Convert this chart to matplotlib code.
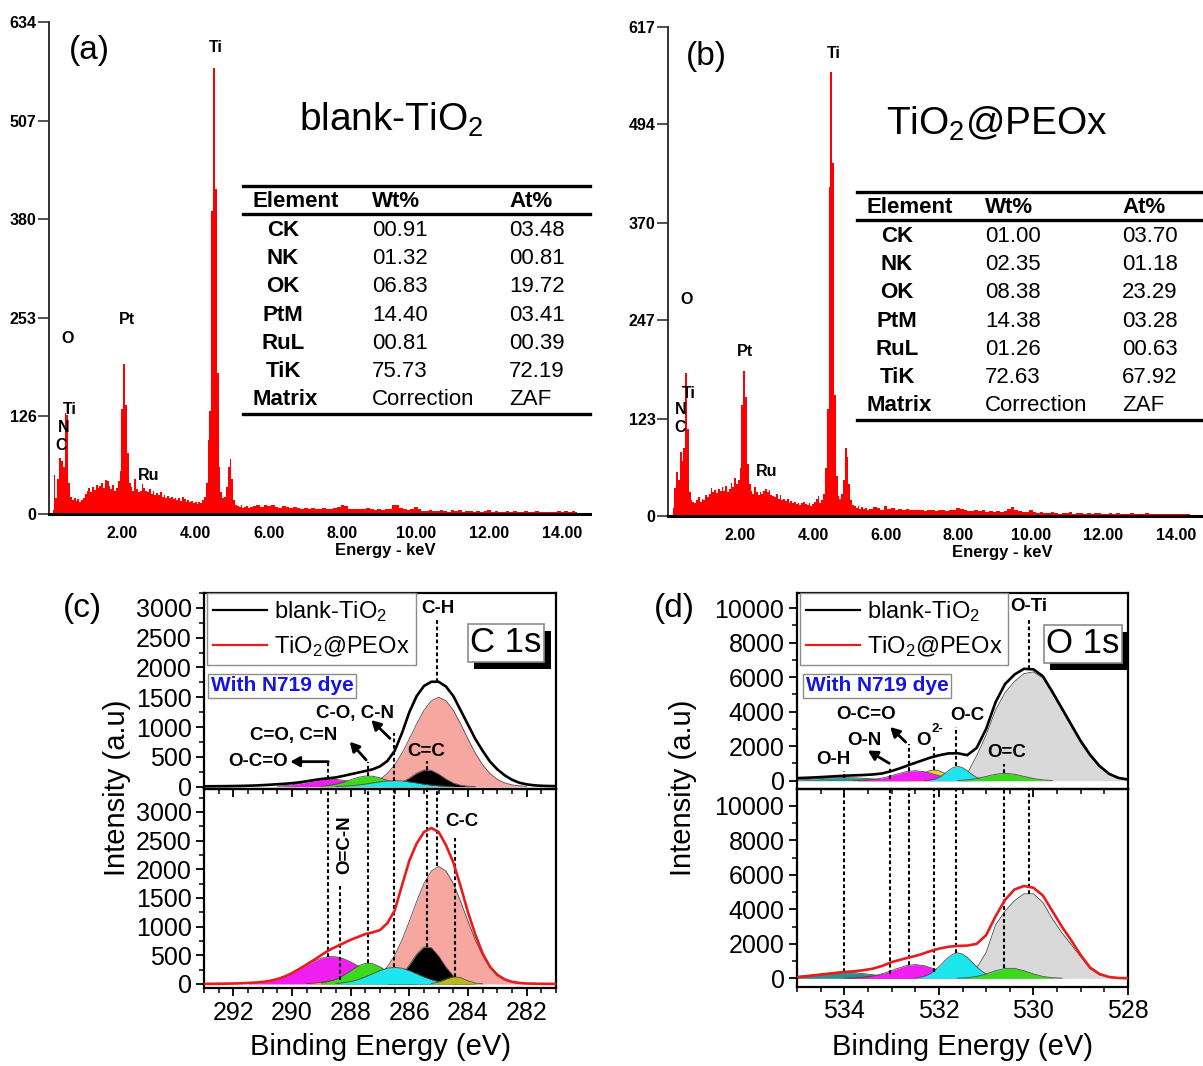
import matplotlib
matplotlib.use("Agg")
import matplotlib.pyplot as plt
import matplotlib.patheffects as pe
from matplotlib.lines import Line2D
from matplotlib.ticker import MultipleLocator
import numpy as np

plt.rcParams["font.family"] = ["Liberation Sans", "DejaVu Sans"]
plt.rcParams["mathtext.fontset"] = "custom"
plt.rcParams["mathtext.rm"] = "Liberation Sans"
plt.rcParams["mathtext.it"] = "Liberation Sans:italic"
plt.rcParams["mathtext.bf"] = "Liberation Sans:bold"

W, H = 1203, 1066

# ---------------- EDS spectra (counts) ----------------
# 0.05 keV channels from 0.10 keV, then 0.1 keV channels from 5.6 keV
eds_a_low = [5, 50, 20, 45, 72, 68, 60, 130, 128, 40,
             22, 18, 20, 17, 19, 16, 18, 20, 26, 30,
             33, 28, 35, 31, 38, 34, 36, 40, 33, 44,
             42, 36, 32, 38, 30, 34, 42, 55, 135, 193,
             140, 78, 40, 35, 30, 45, 32, 28, 30, 39,
             34, 30, 28, 32, 26, 29, 24, 27, 25, 28,
             22, 24, 21, 23, 20, 22, 19, 21, 18, 20,
             17, 22, 19, 16, 18, 15, 17, 14, 16, 13,
             15, 14, 18, 22, 40, 95, 133, 391, 575, 419,
             182, 60, 28, 20, 22, 35, 60, 71, 45, 18,
             12, 10, 9, 11, 8, 9, 10, 8, 9]
eds_a_high = [10, 12, 9, 11, 10, 12, 9, 8, 10, 9,
              8, 9, 8, 7, 8, 7, 8, 6, 7, 8,
              6, 7, 8, 9, 11, 10, 7, 6, 7, 6,
              7, 8, 6, 5, 6, 5, 6, 7, 11, 12,
              8, 6, 5, 6, 9, 6, 4, 4, 5, 4,
              4, 5, 4, 3, 5, 4, 5, 3, 4, 4,
              3, 4, 3, 4, 5, 3, 4, 3, 3, 4,
              3, 4, 3, 3, 4, 3, 3, 4, 3, 3,
              2, 3, 3, 4, 3, 4, 3, 4, 3]
eds_b_low = [0, 10, 35, 56, 45, 81, 70, 86, 180, 110,
             30, 20, 18, 16, 20, 24, 18, 22, 20, 26,
             24, 28, 35, 30, 33, 29, 34, 31, 36, 32,
             38, 30, 34, 42, 36, 48, 40, 46, 60, 140,
             183, 150, 65, 40, 32, 28, 36, 30, 26, 30,
             28, 32, 34, 30, 33, 27, 25, 24, 28, 22,
             26, 20, 22, 19, 21, 17, 19, 16, 18, 15,
             17, 14, 16, 18, 15, 14, 16, 13, 15, 18,
             22, 25, 16, 20, 28, 60, 135, 415, 560, 446,
             153, 50, 25, 22, 28, 45, 86, 75, 40, 20,
             14, 12, 10, 12, 9, 11, 9, 10, 8]
eds_b_high = [9, 11, 10, 8, 12, 9, 10, 8, 9, 8,
              9, 7, 8, 8, 7, 6, 8, 7, 6, 7,
              7, 6, 8, 7, 10, 9, 7, 6, 6, 7,
              6, 7, 5, 6, 5, 6, 5, 6, 9, 11,
              8, 6, 5, 5, 7, 5, 4, 5, 4, 4,
              5, 4, 3, 4, 4, 5, 3, 4, 4, 3,
              4, 3, 4, 4, 3, 3, 4, 3, 4, 3,
              3, 3, 4, 3, 3, 3, 4, 3, 3, 3,
              3, 2, 3, 3, 3, 2, 3, 3, 2]
eds_a_yticks = [0, 126, 253, 380, 507, 634]
eds_b_yticks = [0, 123, 247, 370, 494, 617]
eds_xticks = [2, 4, 6, 8, 10, 12, 14]

table_elements = ["CK", "NK", "OK", "PtM", "RuL", "TiK"]
wt_a = ["00.91", "01.32", "06.83", "14.40", "00.81", "75.73"]
at_a = ["03.48", "00.81", "19.72", "03.41", "00.39", "72.19"]
wt_b = ["01.00", "02.35", "08.38", "14.38", "01.26", "72.63"]
at_b = ["03.70", "01.18", "23.29", "03.28", "00.63", "67.92"]

# ---------------- XPS C 1s (step 0.25 eV, listed from high BE) ----------------
c1_env = (293.0, [5, 6, 7, 8, 10, 12, 15, 19, 25, 32, 40, 48, 58, 72, 90, 110, 128,
                  140, 155, 180, 208, 235, 262, 290, 340, 430, 600, 900, 1250, 1520,
                  1690, 1760, 1760, 1680, 1520, 1280, 1040, 800, 600, 420, 290, 190,
                  115, 65, 38, 22, 14, 10, 8])
c1_ch = (288.0, [5, 13, 29, 62, 121, 219, 364, 561, 800, 1053, 1282, 1441, 1500,
                 1441, 1282, 1053, 800, 561, 364, 219, 121, 62, 29, 13, 5])
c1_oco = (290.5, [8, 16, 29, 49, 72, 96, 116, 125, 121, 105, 82, 58, 36, 21, 11, 5])
c1_con = (289.0, [8, 19, 41, 74, 116, 155, 178, 175, 148, 107, 66, 35, 16, 6])
c1_co = (288.5, [3, 7, 14, 26, 42, 62, 81, 95, 100, 95, 81, 62, 42, 26, 14, 7, 3])
c1_cc = (286.75, [9, 28, 71, 143, 225, 280, 273, 209, 126, 60, 22, 7, 2])

c2_env = (293.0, [2, 3, 4, 6, 8, 12, 18, 25, 36, 55, 85, 130, 190, 262, 340, 420, 505,
                  585, 650, 710, 770, 820, 870, 900, 940, 1060, 1280, 1720, 2150, 2450,
                  2650, 2720, 2650, 2420, 2120, 1700, 1250, 860, 530, 300, 160, 80, 38,
                  18, 9, 5, 3, 2, 2])
c2_ch = (288.0, [7, 18, 40, 85, 166, 299, 498, 767, 1093, 1439, 1752, 1970, 2050,
                 1970, 1752, 1439, 1093, 767, 498, 299, 166, 85, 40, 18, 7])
c2_oco = (291.5, [7, 14, 27, 48, 80, 126, 185, 255, 329, 397, 450, 478, 474, 442, 385,
                  314, 240, 172, 115, 72, 43, 23, 12, 6])
c2_ocn = (289.5, [6, 16, 33, 55, 72, 74, 59, 37, 19, 7])
c2_con = (289.0, [16, 39, 82, 150, 234, 314, 361, 355, 300, 217, 135, 72, 33, 13])
c2_cc = (286.75, [20, 64, 164, 330, 521, 647, 632, 485, 292, 139, 51, 15, 3])
c2_co = (288.5, [9, 21, 42, 76, 123, 179, 234, 275, 290, 275, 234, 179, 123, 76, 42, 21, 9])
c2_c_c = (285.25, [8, 35, 88, 129, 109, 54, 16, 3])

# ---------------- XPS O 1s (envelopes step 0.2 eV) ----------------
d1_env = (535.0, [150, 170, 195, 225, 255, 290, 310, 330, 360, 420, 560, 740, 940, 1130,
                  1320, 1470, 1580, 1590, 1480, 1900, 3000, 4550, 5600, 6150, 6480, 6450,
                  6050, 5150, 4200, 3250, 2300, 1500, 850, 400, 160, 70])
d1_oti = (531.6, 0.2, [60, 400, 1450, 2650, 4100, 5100, 5750, 6200, 6300, 5950, 5050,
                       4100, 3150, 2200, 1400, 780, 360, 140, 55])
d1_oh = (535.0, 0.2, [44, 73, 108, 143, 170, 180, 170, 143, 108, 73, 44, 23, 11])
d1_on = (533.8, 0.2, [6, 19, 45, 76, 90, 76, 45, 19, 6])
d1_o2 = (532.8, 0.1, [14, 39, 90, 181, 310, 456, 574, 620, 574, 456, 310, 181, 90, 39, 14])
d1_ocoo = (533.7, 0.2, [11, 36, 98, 213, 372, 519, 580, 519, 372, 213, 98, 36, 11])
d1_oc = (532.3, 0.1, [9, 31, 84, 191, 364, 575, 757, 830, 757, 575, 364, 191, 84, 31, 9])
d1_odc = (531.6, 0.2, [14, 48, 126, 249, 375, 430, 375, 249, 126, 48, 14])

d2_env = (535.0, [80, 130, 190, 250, 310, 370, 410, 470, 560, 720, 940, 1090, 1230, 1370,
                  1560, 1720, 1830, 1880, 1900, 2000, 2500, 3600, 4550, 5150, 5350, 5250,
                  4800, 3900, 3000, 2200, 1350, 620, 250, 80, 20, 10])
d2_oti = (531.6, 0.2, [50, 200, 600, 1500, 3100, 3900, 4500, 4900, 4900, 4400, 3450,
                       2650, 1950, 1250, 560, 200, 60, 15, 5])
d2_oh = (535.0, 0.2, [85, 142, 210, 278, 331, 350, 331, 278, 210, 142, 85, 45, 22])
d2_on = (534.0, 0.2, [8, 28, 73, 145, 218, 250, 218, 145, 73, 28, 8])
d2_ocoo = (533.9, 0.2, [9, 30, 81, 184, 350, 554, 730, 800, 730, 554, 350, 184, 81, 30, 9])
d2_oc = (532.5, 0.1, [27, 63, 132, 250, 432, 672, 950, 1215, 1409, 1480, 1409, 1215, 950,
                      672, 432, 250, 132, 63, 27])
d2_odc = (531.6, 0.2, [10, 38, 112, 255, 441, 580, 580, 441, 255, 112, 38, 10])

PINK, MAG, GRN, CYN = "#f6a7a0", "#f01ef0", "#3cd81c", "#1ee6ee"
ORG, OLV, GRY, TEAL = "#ff9c30", "#b8b818", "#d9d9d9", "#2f8f8f"
ORED, YEL, RED = "#e8572c", "#f0cf3a", "#e81c1c"


def px(x, y):
    return x / W, 1 - y / H


fig = plt.figure(figsize=(W / 100, H / 100), dpi=100)


# ---------------- EDS panels ----------------
def eds_panel(left, right, top, bottom, low, high, yticks):
    ax = fig.add_axes([left / W, 1 - bottom / H, (right - left) / W, (bottom - top) / H])
    e = np.concatenate([0.10 + 0.05 * np.arange(len(low)), 5.60 + 0.10 * np.arange(len(high))])
    c = np.concatenate([low, high])
    ax.fill_between(e, c, step="mid", color="#ff0000", lw=0)
    ax.set_xlim(0, 14.75)
    ax.set_ylim(0, yticks[-1])
    ax.set_xticks(eds_xticks)
    ax.set_xticklabels([f"{v:.2f}" for v in eds_xticks], fontweight="bold", fontsize=11.5)
    ax.set_yticks(yticks)
    ax.set_yticklabels([str(v) for v in yticks], fontweight="bold", fontsize=11.5)
    ax.tick_params(axis="x", length=0, pad=9)
    ax.tick_params(axis="y", length=8, width=1.2, pad=1, color="#333333")
    for s in ("top", "right"):
        ax.spines[s].set_visible(False)
    ax.spines["left"].set_linewidth(1.4)
    ax.spines["left"].set_color("#333333")
    ax.spines["bottom"].set_linewidth(2.2)
    return ax


ax_a = eds_panel(49, 590, 22, 514, eds_a_low, eds_a_high, eds_a_yticks)
ax_b = eds_panel(668, 1203, 27, 516, eds_b_low, eds_b_high, eds_b_yticks)

fig.text(*px(385, 550), "Energy - keV", fontsize=12, fontweight="bold", ha="center", va="center")
fig.text(*px(1002, 552), "Energy - keV", fontsize=12, fontweight="bold", ha="center", va="center")
fig.text(*px(89, 50), "(a)", fontsize=24, ha="center", va="center")
fig.text(*px(706, 56), "(b)", fontsize=24, ha="center", va="center")
fig.text(*px(391, 120), "blank-TiO$_2$", fontsize=28, ha="center", va="center")
fig.text(*px(997, 124), "TiO$_2$@PEOx", fontsize=28, ha="center", va="center")

peak_labels_a = [("Ti", 216, 47), ("O", 68, 338), ("Pt", 127, 319), ("Ti", 70, 410),
                 ("N", 64, 428), ("C", 61, 446), ("Ru", 149, 476)]
peak_labels_b = [("Ti", 834, 53), ("O", 687, 300), ("Pt", 745, 351), ("Ti", 689, 393),
                 ("N", 681, 410), ("C", 680, 428), ("Ru", 767, 471)]
for name, x, y in peak_labels_a + peak_labels_b:
    fig.text(*px(x, y), name, fontsize=11.5, fontweight="bold", ha="center", va="center")


def draw_table(x0, x1, ytop, name_x, wt_x, at_x, wt, at):
    for y in (ytop, ytop + 28, ytop + 228):
        fig.add_artist(Line2D([x0 / W, x1 / W], [1 - y / H] * 2, lw=2.4, color="k"))
    hy = ytop + 15.5
    fig.text(*px(x0 + 10, hy), "Element", fontsize=16, fontweight="bold", va="center")
    fig.text(*px(wt_x, hy), "Wt%", fontsize=16, fontweight="bold", va="center")
    fig.text(*px(at_x, hy), "At%", fontsize=16, fontweight="bold", va="center")
    for i, name in enumerate(table_elements):
        y = ytop + 44.5 + 28.2 * i
        fig.text(*px(name_x, y), name, fontsize=16, fontweight="bold", ha="center", va="center")
        fig.text(*px(wt_x, y), wt[i], fontsize=16, va="center")
        fig.text(*px(at_x, y), at[i], fontsize=16, va="center")
    y = ytop + 44.5 + 28.2 * 6
    fig.text(*px(x0 + 10, y), "Matrix", fontsize=16, fontweight="bold", va="center")
    fig.text(*px(wt_x, y), "Correction", fontsize=16, va="center")
    fig.text(*px(at_x, y), "ZAF", fontsize=16, va="center")


draw_table(243, 590, 186, 283, 372, 509, wt_a, at_a)
draw_table(857, 1203, 192, 897, 985, 1122, wt_b, at_b)


# ---------------- XPS panels ----------------
def xps_axes(left, right, top, bottom, xlim, ylim, ymajor, yminor, ymax_label, show_x):
    ax = fig.add_axes([left / W, 1 - bottom / H, (right - left) / W, (bottom - top) / H])
    ax.set_facecolor("none")
    ax.set_xlim(*xlim)
    ax.set_ylim(*ylim)
    ax.xaxis.set_major_locator(MultipleLocator(2))
    ax.xaxis.set_minor_locator(MultipleLocator(0.5))
    ax.set_yticks(np.arange(0, ymax_label + 1, ymajor))
    ax.yaxis.set_minor_locator(MultipleLocator(yminor))
    ax.tick_params(which="major", direction="out", length=6, width=1.3, labelsize=18, pad=3)
    ax.tick_params(which="minor", direction="out", length=3.5, width=1.1)
    ax.tick_params(axis="x", labelbottom=show_x)
    for s in ax.spines.values():
        s.set_linewidth(1.6)
    return ax


def draw_components(ax, comps, step=None):
    for i, (data, color) in enumerate(comps):
        if len(data) == 3:
            start, st, vals = data
        else:
            (start, vals), st = data, step
        e = start - st * np.arange(len(vals))
        z = 2 + 0.01 * i
        ax.fill_between(e, vals, color=color, lw=0, zorder=z)
        ax.plot(e, vals, color="0.3", lw=0.6, zorder=z)


def draw_env(ax, env, step, color):
    start, vals = env
    e = start - step * np.arange(len(vals))
    return ax.plot(e, vals, color=color, lw=1.9, zorder=6)[0]


def marks(ax, xs, lows, highs):
    ax.vlines(xs, lows, highs, colors="k", linestyles=(0, (1.8, 1.3)), lw=1.5, zorder=4)


def labels(ax, items, rot=0):
    for s, x, y in items:
        ax.text(x, y, s, fontsize=13.5, fontweight="bold", ha="center", va="center",
                rotation=rot, zorder=7)


def arrows(ax, items):
    for tail, head in items:
        ax.annotate("", xy=head, xytext=tail, zorder=7,
                    arrowprops=dict(arrowstyle="-|>,head_length=0.55,head_width=0.3",
                                    lw=2.0, color="k", shrinkA=0, shrinkB=0))


def shadow_box(ax, xf, yf, s):
    t = ax.text(xf, yf, s, transform=ax.transAxes, fontsize=25, ha="center", va="center",
                zorder=10, bbox=dict(boxstyle="square,pad=0.08", fc="white", ec="0.55", lw=1.2))
    t.get_bbox_patch().set_path_effects([
        pe.SimplePatchShadow(offset=(5, -5), shadow_rgbFace="k", alpha=1.0), pe.Normal()])


def legend_and_dye(ax, h_black, h_red, dye_x):
    leg = ax.legend([h_black, h_red], ["blank-TiO$_2$", "TiO$_2$@PEOx"], loc="upper left",
                    bbox_to_anchor=(0.008, 1.0), fontsize=17, frameon=True, fancybox=False,
                    edgecolor="0.55", framealpha=1, borderpad=0.25, handlelength=2.3,
                    handletextpad=0.3, labelspacing=0.45, borderaxespad=0)
    leg.get_frame().set_linewidth(1.0)
    leg.set_zorder(9)
    ax.text(dye_x, 0.526, "With N719 dye", transform=ax.transAxes, fontsize=15,
            fontweight="bold", color="#1414e6", ha="center", va="center", zorder=10,
            bbox=dict(boxstyle="square,pad=0.12", fc="white", ec="0.55", lw=1.0))


h_black = Line2D([], [], color="k", lw=1.6)
h_red = Line2D([], [], color=RED, lw=1.6)

# (c) C 1s
ax_c1 = xps_axes(204, 556, 593, 789, (293, 281), (-40, 3250), 500, 250, 3000, False)
ax_c2 = xps_axes(204, 556, 789, 988, (293, 281), (-70, 3400), 500, 250, 3000, True)
draw_components(ax_c1, [(c1_ch, PINK), (c1_oco, MAG), (c1_con, GRN),
                        (c1_cc, "k"), (c1_co, CYN)], step=0.25)
draw_env(ax_c1, c1_env, 0.25, "k")
draw_components(ax_c2, [(c2_ch, PINK), (c2_oco, MAG), (c2_ocn, ORG), (c2_con, GRN),
                        (c2_cc, "k"), (c2_co, CYN), (c2_c_c, OLV)], step=0.25)
draw_env(ax_c2, c2_env, 0.25, RED)
marks(ax_c1, [288.76, 287.41, 286.51, 285.40, 285.04], [125, 180, 100, 280, 1760],
      [419, 419, 894, 430, 2821])
marks(ax_c2, [288.76, 288.37, 287.41, 286.51, 285.40, 285.04, 284.45],
      [478, 74, 361, 290, 647, 2050, 129], [3400, 1700, 3400, 3400, 3400, 3400, 2545])
labels(ax_c1, [("C-H", 285.04, 2990), ("C=C", 285.44, 587), ("C-O, C-N", 287.84, 1229),
               ("C=O, C=N", 289.95, 866), ("O-C=O", 291.17, 419)])
arrows(ax_c1, [((288.76, 419), (290.06, 419)), ((287.47, 447), (288.03, 754)),
               ((286.66, 810), (287.3, 1117))])
labels(ax_c2, [("O=C-N", 288.2, 2429)], rot=90)
labels(ax_c2, [("C-C", 284.2, 2836)])
legend_and_dye(ax_c1, h_black, h_red, 0.222)
shadow_box(ax_c1, 0.858, 0.745, "C 1s")

# (d) O 1s
ax_d1 = xps_axes(797, 1128, 593, 789, (535, 528), (-480, 10870), 2000, 1000, 10000, False)
ax_d2 = xps_axes(797, 1128, 789, 987, (535, 528), (-500, 10970), 2000, 1000, 10000, True)
draw_components(ax_d1, [(d1_oti, GRY), (d1_oh, TEAL), (d1_on, ORED), (d1_o2, YEL),
                        (d1_ocoo, MAG), (d1_oc, CYN), (d1_odc, GRN)])
draw_env(ax_d1, d1_env, 0.2, "k")
draw_components(ax_d2, [(d2_oti, GRY), (d2_oh, TEAL), (d2_on, ORED),
                        (d2_ocoo, MAG), (d2_oc, CYN), (d2_odc, GRN)])
draw_env(ax_d2, d2_env, 0.2, RED)
o_marks = [534.0, 533.03, 532.64, 532.1, 531.63, 530.62, 530.09]
marks(ax_d1, o_marks, [180, 90, 580, 620, 830, 430, 6480], [544, 874, 2136, 2040, 3107, 970, 9417])
marks(ax_d2, o_marks, [350, 250, 800, 350, 1480, 600, 4900], [10970] * 7)
labels(ax_d1, [("O-Ti", 530.09, 10100), ("O=C", 530.57, 1650), ("O-C", 531.39, 3786),
               ("O", 532.33, 2330), ("O-C=O", 533.53, 3845), ("O-N", 533.57, 2330),
               ("O-H", 534.24, 1204)])
ax_d1.annotate("2-", xy=(532.33, 2330), xytext=(6, 4), textcoords="offset points",
               fontsize=9.5, fontweight="bold", ha="left", va="bottom", zorder=7)
arrows(ax_d1, [((532.7, 2233), (533.03, 3107)), ((533.05, 1010), (533.5, 1748))])
legend_and_dye(ax_d1, h_black, h_red, 0.242)
shadow_box(ax_d1, 0.864, 0.74, "O 1s")

fig.text(*px(82, 608), "(c)", fontsize=24, ha="center", va="center")
fig.text(*px(674, 608), "(d)", fontsize=24, ha="center", va="center")
fig.text(*px(117, 788), "Intensity (a.u)", fontsize=21, rotation=90, ha="center", va="center")
fig.text(*px(683, 788), "Intensity (a.u)", fontsize=21, rotation=90, ha="center", va="center")
fig.text(*px(380, 1047), "Binding Energy (eV)", fontsize=21, ha="center", va="center")
fig.text(*px(963, 1047), "Binding Energy (eV)", fontsize=21, ha="center", va="center")

fig.savefig("out.png", dpi=100)
